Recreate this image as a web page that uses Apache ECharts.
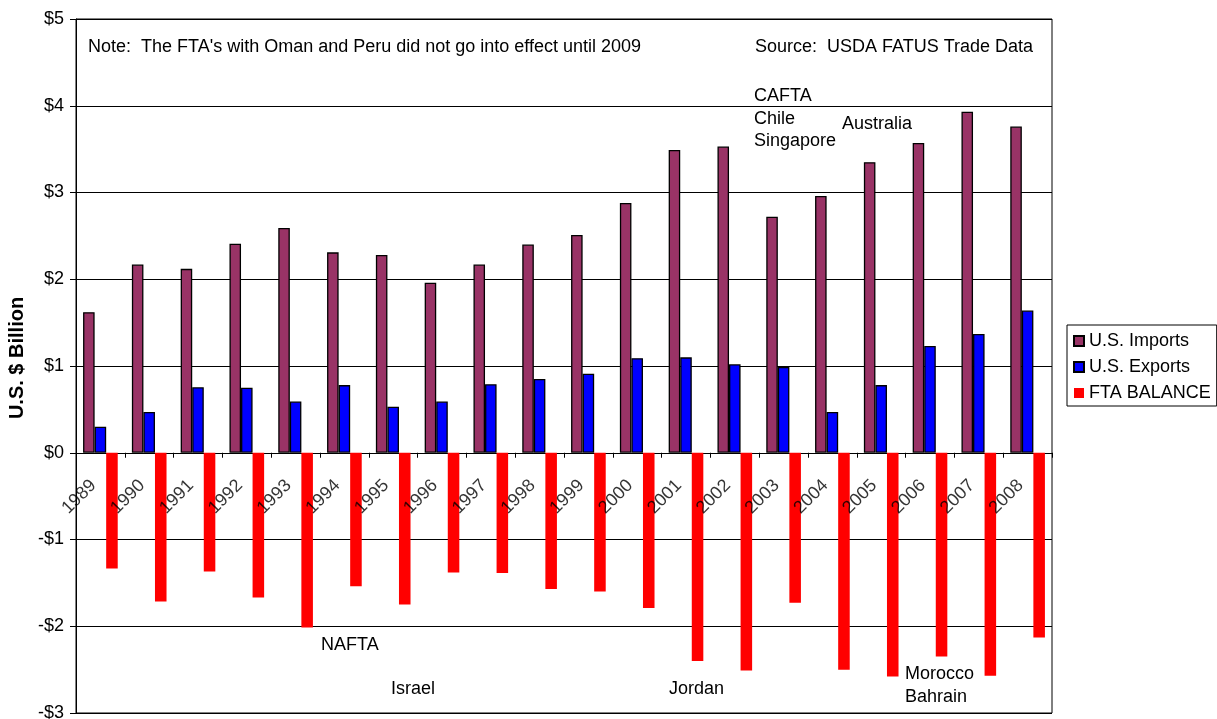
<!DOCTYPE html>
<html>
<head>
<meta charset="utf-8">
<script src="https://cdn.jsdelivr.net/npm/echarts@6/dist/echarts.min.js"></script>
<style>
  html, body { margin: 0; padding: 0; background: #fff; }
  #chart { width: 1217px; height: 719px; }
</style>
</head>
<body>
<div id="chart"></div>
<script>
// U.S. agricultural trade with FTA partners, $ billion
const years = ['1989','1990','1991','1992','1993','1994','1995','1996','1997','1998',
               '1999','2000','2001','2002','2003','2004','2005','2006','2007','2008'];
const usImports = [1.62, 2.17, 2.12, 2.41, 2.59, 2.31, 2.28, 1.96, 2.17, 2.40,
                   2.51, 2.88, 3.49, 3.53, 2.72, 2.96, 3.35, 3.57, 3.93, 3.76];
const usExports = [0.30, 0.47, 0.755, 0.75, 0.59, 0.78, 0.53, 0.59, 0.79, 0.85,
                   0.91, 1.09, 1.10, 1.02, 0.99, 0.47, 0.78, 1.23, 1.37, 1.64];
const ftaBalance = [-1.335, -1.715, -1.37, -1.67, -2.015, -1.54, -1.75, -1.38, -1.385, -1.57,
                    -1.60, -1.79, -2.40, -2.51, -1.73, -2.50, -2.58, -2.35, -2.57, -2.13];
const seriesNames = ['U.S. Imports', 'U.S. Exports', 'FTA BALANCE'];
const yTicks = { min: -3, max: 5, step: 1 };

const FONT = "'Liberation Sans', Arial, sans-serif";

// Free-standing notes and agreement names placed on the canvas
const notes = [
  { text: "Note:  The FTA's with Oman and Peru did not go into effect until 2009", x: 88, y: 47 },
  { text: 'Source:  USDA FATUS Trade Data', x: 755, y: 47 },
  { text: 'CAFTA', x: 754, y: 96 },
  { text: 'Chile', x: 754, y: 119 },
  { text: 'Singapore', x: 754, y: 141 },
  { text: 'Australia', x: 842, y: 124 },
  { text: 'NAFTA', x: 321, y: 645 },
  { text: 'Israel', x: 391, y: 689 },
  { text: 'Jordan', x: 669, y: 689 },
  { text: 'Morocco', x: 905, y: 674 },
  { text: 'Bahrain', x: 905, y: 697 }
];

const chart = echarts.init(document.getElementById('chart'), null, { renderer: 'canvas' });

function money(v) {
  return v < 0 ? '-$' + Math.abs(v) : '$' + v;
}

chart.setOption({
  animation: false,
  backgroundColor: '#fff',
  textStyle: { fontFamily: FONT, color: '#000' },
  grid: {
    left: 76, right: 165, top: 19, bottom: 6,
    containLabel: false, outerBoundsMode: 'none',
    show: true, borderColor: '#000', borderWidth: 1
  },
  legend: {
    orient: 'vertical',
    left: 1067, top: 325,
    borderColor: '#000', borderWidth: 1,
    padding: [7, 6, 4, 6],
    itemWidth: 10, itemHeight: 10, itemGap: 8,
    icon: 'rect',
    textStyle: { fontSize: 18, lineHeight: 18, fontFamily: FONT, color: '#000' },
    data: seriesNames
  },
  xAxis: {
    type: 'category',
    data: years,
    axisLine: { onZero: true, lineStyle: { color: '#000', width: 1 } },
    axisTick: { show: true, length: 5, inside: false, lineStyle: { color: '#000' } },
    // year labels are drawn next to the zero line by the helper series below
    axisLabel: { show: false },
    splitLine: { show: false }
  },
  yAxis: {
    type: 'value',
    min: yTicks.min, max: yTicks.max, interval: yTicks.step,
    name: 'U.S. $ Billion',
    nameLocation: 'middle',
    nameGap: 49,
    nameTextStyle: {
      fontSize: 20, fontWeight: 'bold', fontFamily: FONT, color: '#000',
      padding: [0, 0, 0, 16]
    },
    axisLine: { show: true, lineStyle: { color: '#000', width: 1 } },
    axisTick: { show: true, length: 6, lineStyle: { color: '#000' } },
    axisLabel: { formatter: money, fontSize: 18, fontFamily: FONT, color: '#000', margin: 12 },
    splitLine: { show: true, lineStyle: { color: '#000', width: 1 } }
  },
  series: [
    {
      name: seriesNames[0], type: 'bar', data: usImports,
      barGap: '0%', barCategoryGap: '29%',
      itemStyle: { color: '#993366', borderColor: '#000', borderWidth: 1.3 }
    },
    {
      name: seriesNames[1], type: 'bar', data: usExports,
      itemStyle: { color: '#0000FF', borderColor: '#000', borderWidth: 1.3 }
    },
    {
      name: seriesNames[2], type: 'bar', data: ftaBalance,
      itemStyle: { color: '#FF0000' }
    },
    {
      // slanted year labels hanging just below the $0 line
      name: 'years', type: 'scatter',
      data: years.map(y => [y, 0]),
      symbolSize: 0, silent: true, z: 5,
      label: {
        show: true,
        formatter: p => p.value[0],
        position: [0, 0],
        offset: [-26.2, 16.2],
        rotate: 45,
        align: 'right', verticalAlign: 'middle',
        textBorderWidth: 0, textShadowBlur: 0,
        fontSize: 18, fontFamily: FONT, color: '#000'
      }
    }
  ],
  graphic: notes.map(n => ({
    type: 'text',
    x: n.x, y: n.y,
    style: {
      text: n.text, fill: '#000',
      font: '18px ' + FONT,
      textAlign: 'left', textVerticalAlign: 'middle'
    }
  }))
});
</script>
</body>
</html>
